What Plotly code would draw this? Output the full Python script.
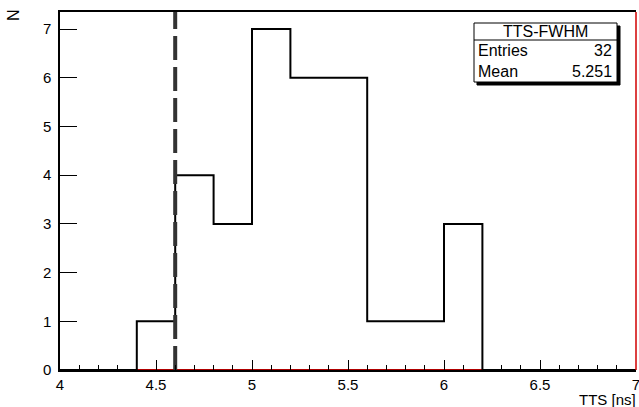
import plotly.graph_objects as go

# Histogram data (bin low edges, width 0.2)
bin_low = [4.0, 4.2, 4.4, 4.6, 4.8, 5.0, 5.2, 5.4, 5.6, 5.8, 6.0, 6.2, 6.4, 6.6, 6.8]
counts = [0, 0, 1, 4, 3, 7, 6, 6, 1, 1, 3, 0, 0, 0, 0]
bin_width = 0.2
x_range = [4.0, 7.0]
y_max = 7.35
cut_value = 4.6
stats_title = "TTS-FWHM"
stats_rows = [("Entries", "32"), ("Mean", "5.251")]

# Plot-area geometry in pixels (for converting overlay positions)
W, H = 639, 407
L, R, T, B = 60, 3, 12, 37
pw, ph = W - L - R, H - T - B

def px(xp):
    return (xp - L) / pw

def py(yp):
    return (H - B - yp) / ph

# step outline
xs = list(bin_low) + [bin_low[-1] + bin_width]
ys = list(counts) + [counts[-1]]

fig = go.Figure()
fig.add_trace(go.Scatter(x=xs, y=ys, mode="lines", line=dict(shape="hv", color="black", width=2),
                         hoverinfo="skip", showlegend=False))
fig.add_trace(go.Scatter(x=[cut_value, cut_value], y=[0, y_max], mode="lines",
                         line=dict(color="#333333", width=4, dash="24px,7px"),
                         hoverinfo="skip", showlegend=False))

shapes = []
# red baseline and right edge
shapes.append(dict(type="line", xref="x", yref="y", x0=x_range[0], x1=x_range[1], y0=0, y1=0,
                   line=dict(color="#b00000", width=2), layer="below"))
shapes.append(dict(type="line", xref="paper", yref="paper", x0=1, x1=1, y0=0, y1=1,
                   line=dict(color="#d00000", width=1.5)))

# stats box
bx0, bx1, by0, by1 = 474, 617, 23, 82
sh = 3
shapes.append(dict(type="rect", xref="paper", yref="paper",
                   x0=px(bx0 + sh), x1=px(bx1 + sh), y0=py(by1 + sh), y1=py(by0 + sh),
                   fillcolor="black", line=dict(color="black", width=1)))
shapes.append(dict(type="rect", xref="paper", yref="paper",
                   x0=px(bx0), x1=px(bx1), y0=py(by1), y1=py(by0),
                   fillcolor="white", line=dict(color="black", width=1)))
shapes.append(dict(type="line", xref="paper", yref="paper",
                   x0=px(bx0), x1=px(bx1), y0=py(40), y1=py(40),
                   line=dict(color="black", width=1)))

font = dict(family="Liberation Sans, Arial, sans-serif", size=15, color="black")
stats_font = dict(family="Liberation Sans, Arial, sans-serif", size=16, color="black")
annotations = [
    dict(text=stats_title, xref="paper", yref="paper", x=px((bx0 + bx1) / 2), y=py(31.5),
         xanchor="center", yanchor="middle", showarrow=False, font=stats_font),
]
row_y = [51, 71]
for (k, v), yy in zip(stats_rows, row_y):
    annotations.append(dict(text=k, xref="paper", yref="paper", x=px(bx0 + 2), y=py(yy),
                            xanchor="left", yanchor="middle", showarrow=False, font=stats_font))
    annotations.append(dict(text=v, xref="paper", yref="paper", x=px(bx1 - 3), y=py(yy),
                            xanchor="right", yanchor="middle", showarrow=False, font=stats_font))
annotations.append(dict(text="TTS [ns]", xref="paper", yref="paper", x=px(638), y=py(399),
                        xanchor="right", yanchor="middle", showarrow=False, font=font))
annotations.append(dict(text="N", xref="paper", yref="paper", x=px(14), y=py(15),
                        xanchor="center", yanchor="middle", showarrow=False, font=stats_font,
                        textangle=-90))

fig.update_layout(
    width=W, height=H,
    margin=dict(l=L, r=R, t=T, b=B, pad=0, autoexpand=False),
    paper_bgcolor="white", plot_bgcolor="white",
    shapes=shapes, annotations=annotations,
    font=font,
    xaxis=dict(range=x_range, dtick=0.5, tick0=4, ticks="inside", ticklen=10, tickwidth=1,
               tickcolor="black", showgrid=False, zeroline=False, showline=True,
               linecolor="black", linewidth=1.5, mirror=True, automargin=False,
               minor=dict(dtick=0.1, ticks="inside", ticklen=5, tickcolor="black", showgrid=False),
               tickfont=font, ticklabelstandoff=0, ticklabeloverflow="allow", fixedrange=True),
    yaxis=dict(range=[0, y_max], dtick=1, tick0=0, ticks="inside", ticklen=17, tickwidth=1,
               tickcolor="black", showgrid=False, zeroline=False, showline=True,
               linecolor="black", linewidth=1.5, tickfont=font, ticklabelstandoff=4,
               automargin=False, fixedrange=True),
)

fig.write_html("out.html")
